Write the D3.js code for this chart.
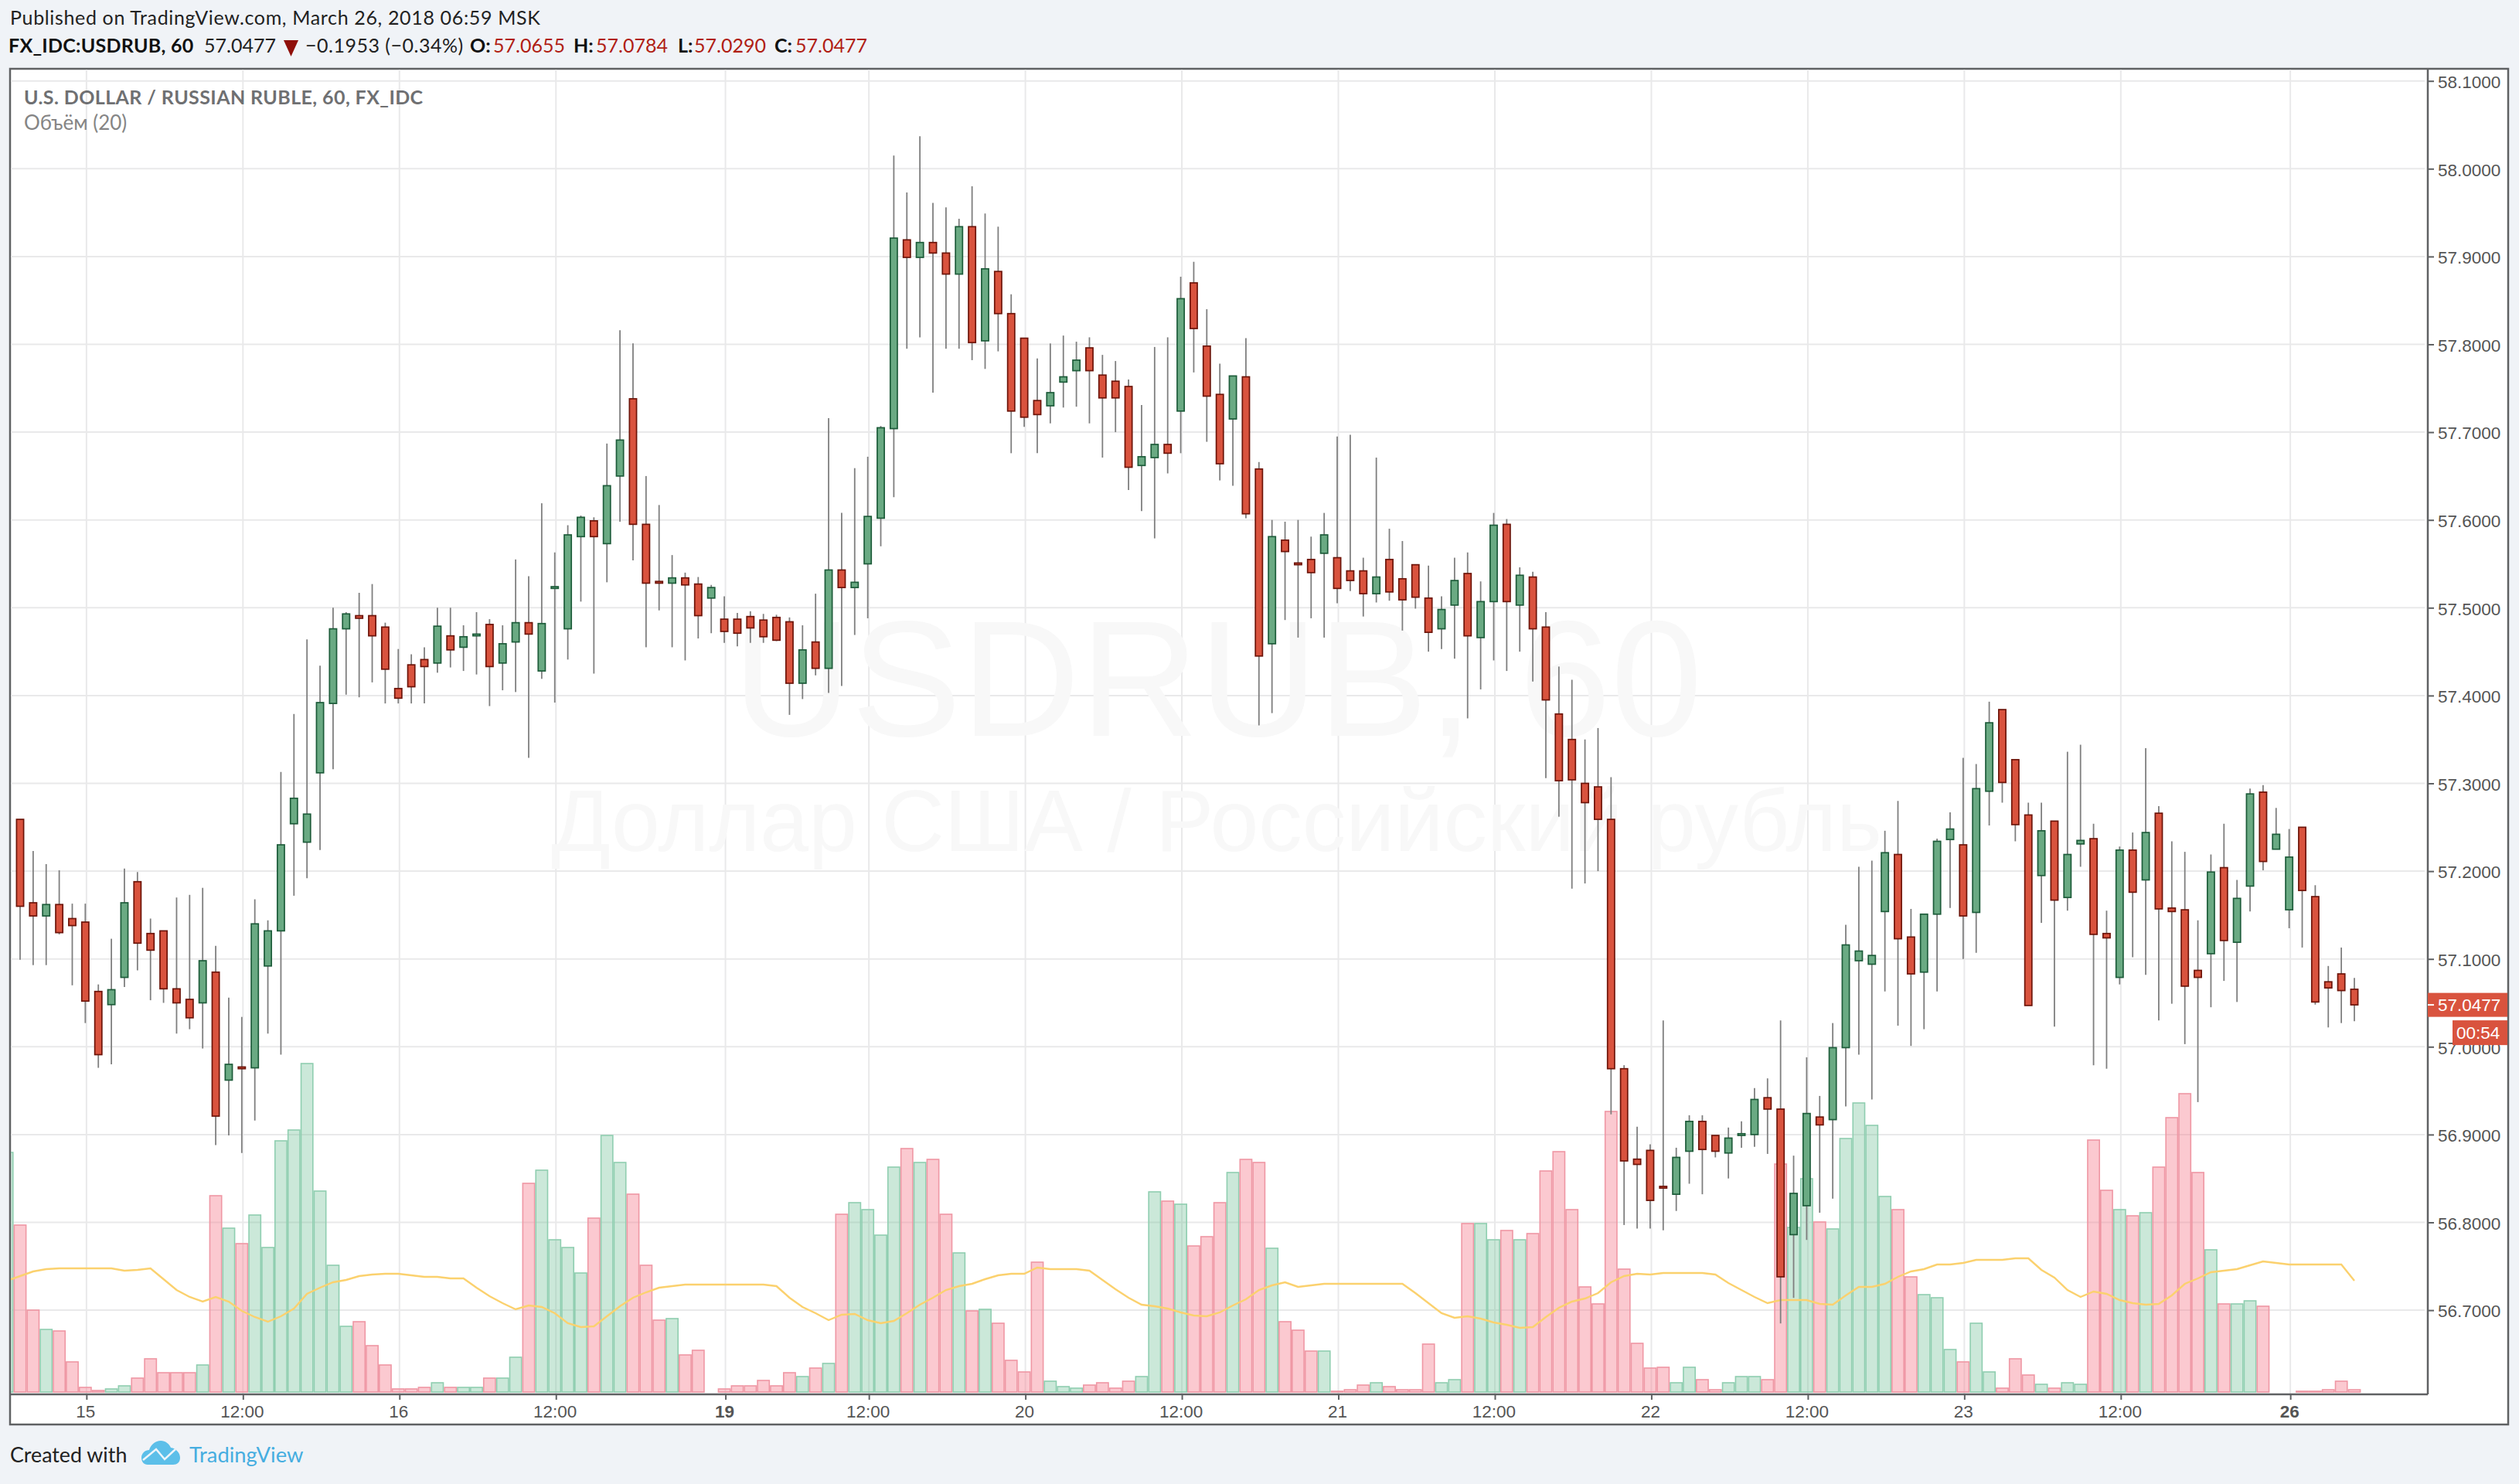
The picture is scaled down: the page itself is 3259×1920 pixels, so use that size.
<!DOCTYPE html>
<html>
<head>
<meta charset="utf-8">
<title>USDRUB, 60</title>
<script src="https://cdnjs.cloudflare.com/ajax/libs/d3/7.8.5/d3.min.js"></script>
<style>
  html, body { margin: 0; padding: 0; background: #f0f3f7; }
  svg { display: block; }
</style>
</head>
<body>
<div id="chart"></div>
<script>
// hourly candles
const opens = [
  57.259,57.164,57.149,57.162,57.146,57.142,57.063,57.048,57.079,57.188,
  57.129,57.132,57.066,57.054,57.050,57.085,56.962,56.977,56.976,57.092,
  57.132,57.254,57.233,57.312,57.391,57.476,57.491,57.491,57.478,57.408,
  57.435,57.441,57.437,57.468,57.455,57.468,57.481,57.437,57.461,57.483,
  57.428,57.522,57.476,57.581,57.599,57.573,57.650,57.738,57.595,57.530,
  57.528,57.534,57.527,57.511,57.487,57.487,57.490,57.486,57.489,57.484,
  57.414,57.461,57.431,57.543,57.523,57.550,57.602,57.704,57.919,57.899,
  57.916,57.904,57.880,57.934,57.804,57.883,57.835,57.807,57.736,57.730,
  57.757,57.770,57.796,57.765,57.758,57.752,57.662,57.671,57.686,57.724,
  57.870,57.798,57.743,57.715,57.763,57.658,57.459,57.577,57.551,57.555,
  57.562,57.557,57.542,57.542,57.516,57.555,57.533,57.549,57.511,57.476,
  57.503,57.539,57.466,57.507,57.595,57.503,57.535,57.478,57.379,57.350,
  57.300,57.296,57.259,56.975,56.872,56.882,56.841,56.832,56.881,56.915,
  56.899,56.879,56.899,56.900,56.942,56.929,56.786,56.819,56.920,56.917,
  56.999,57.098,57.094,57.154,57.219,57.125,57.085,57.151,57.236,57.230,
  57.153,57.291,57.384,57.327,57.264,57.195,57.257,57.170,57.231,57.237,
  57.129,57.079,57.224,57.190,57.266,57.158,57.156,57.087,57.106,57.204,
  57.119,57.183,57.290,57.225,57.156,57.250,57.171,57.074,57.083,57.0655
];
const highs = [
  57.259,57.223,57.208,57.201,57.163,57.163,57.071,57.123,57.203,57.199,
  57.146,57.132,57.170,57.173,57.181,57.115,57.056,57.034,57.168,57.144,
  57.313,57.379,57.464,57.434,57.500,57.495,57.517,57.527,57.483,57.453,
  57.447,57.455,57.500,57.500,57.480,57.495,57.487,57.480,57.555,57.536,
  57.619,57.563,57.594,57.605,57.603,57.687,57.816,57.801,57.650,57.617,
  57.560,57.540,57.535,57.526,57.513,57.494,57.496,57.493,57.492,57.489,
  57.480,57.516,57.716,57.608,57.659,57.672,57.707,58.015,57.973,58.037,
  57.961,57.956,57.943,57.980,57.949,57.934,57.857,57.807,57.784,57.801,
  57.810,57.803,57.808,57.788,57.781,57.760,57.731,57.797,57.808,57.877,
  57.894,57.840,57.778,57.764,57.807,57.666,57.600,57.598,57.600,57.581,
  57.608,57.695,57.697,57.557,57.671,57.590,57.576,57.549,57.548,57.513,
  57.557,57.563,57.530,57.608,57.601,57.546,57.541,57.495,57.433,57.418,
  57.350,57.363,57.307,56.979,56.909,56.889,57.030,56.885,56.922,56.922,
  56.899,56.908,56.915,56.953,56.964,57.030,56.876,56.988,56.944,57.027,
  57.139,57.205,57.212,57.246,57.280,57.157,57.151,57.237,57.267,57.329,
  57.322,57.393,57.384,57.327,57.278,57.278,57.257,57.336,57.344,57.254,
  57.155,57.228,57.244,57.340,57.274,57.234,57.222,57.144,57.219,57.254,
  57.190,57.294,57.298,57.272,57.248,57.250,57.184,57.092,57.113,57.0784
];
const lows = [
  57.099,57.093,57.093,57.128,57.070,57.027,56.976,56.980,57.068,57.087,
  57.053,57.050,57.015,57.020,56.998,56.888,56.899,56.879,56.916,57.015,
  56.991,57.172,57.192,57.224,57.316,57.401,57.398,57.415,57.391,57.391,
  57.391,57.391,57.426,57.432,57.428,57.424,57.388,57.406,57.404,57.329,
  57.419,57.392,57.441,57.507,57.425,57.529,57.598,57.554,57.455,57.497,
  57.455,57.440,57.465,57.471,57.460,57.456,57.460,57.460,57.462,57.378,
  57.396,57.423,57.403,57.411,57.469,57.488,57.570,57.626,57.795,57.808,
  57.745,57.795,57.795,57.782,57.772,57.792,57.676,57.706,57.676,57.710,
  57.728,57.729,57.710,57.671,57.700,57.634,57.610,57.579,57.653,57.676,
  57.768,57.689,57.645,57.639,57.602,57.366,57.380,57.486,57.466,57.488,
  57.466,57.505,57.519,57.490,57.506,57.508,57.474,57.499,57.450,57.453,
  57.442,57.374,57.407,57.440,57.428,57.450,57.416,57.306,57.262,57.180,
  57.186,57.200,56.923,56.797,56.793,56.793,56.791,56.813,56.844,56.832,
  56.874,56.850,56.885,56.886,56.878,56.685,56.714,56.780,56.811,56.827,
  56.932,56.991,56.940,57.063,57.024,57.001,57.020,57.063,57.158,57.100,
  57.107,57.252,57.278,57.234,57.047,57.141,57.023,57.155,57.205,56.979,
  56.975,57.071,57.102,57.082,57.030,57.049,57.003,56.937,57.045,57.075,
  57.051,57.154,57.201,57.225,57.135,57.113,57.048,57.022,57.027,57.029
];
const closes = [
  57.160,57.149,57.162,57.130,57.138,57.052,56.991,57.065,57.164,57.118,
  57.110,57.066,57.050,57.033,57.098,56.921,56.980,56.975,57.140,57.132,
  57.230,57.283,57.265,57.392,57.476,57.493,57.488,57.468,57.430,57.397,
  57.410,57.433,57.479,57.452,57.467,57.470,57.433,57.459,57.483,57.470,
  57.482,57.524,57.583,57.603,57.581,57.639,57.691,57.595,57.528,57.528,
  57.534,57.526,57.491,57.523,57.473,57.471,57.477,57.467,57.463,57.414,
  57.452,57.431,57.543,57.523,57.529,57.604,57.705,57.921,57.899,57.916,
  57.904,57.880,57.934,57.802,57.886,57.835,57.724,57.717,57.720,57.745,
  57.763,57.782,57.770,57.739,57.739,57.660,57.672,57.686,57.676,57.852,
  57.818,57.741,57.664,57.764,57.607,57.445,57.581,57.564,57.549,57.540,
  57.583,57.522,57.531,57.516,57.535,57.518,57.509,57.512,57.472,57.498,
  57.531,57.468,57.507,57.594,57.507,57.537,57.476,57.395,57.303,57.304,
  57.278,57.259,56.975,56.870,56.866,56.825,56.839,56.874,56.915,56.883,
  56.881,56.896,56.901,56.940,56.929,56.738,56.833,56.924,56.911,56.999,
  57.116,57.109,57.104,57.221,57.123,57.083,57.151,57.234,57.248,57.149,
  57.294,57.369,57.301,57.253,57.047,57.246,57.167,57.219,57.235,57.128,
  57.124,57.224,57.176,57.244,57.157,57.154,57.069,57.079,57.199,57.121,
  57.169,57.288,57.211,57.242,57.216,57.178,57.051,57.067,57.064,57.0477
];

// volume has no axis of its own, so these are relative units
// one bar more than the candles: the first one is cut by the left edge
const volumes = [
  310,
  216,106,81,79,39,6,2,4,8,18,
  43,25,25,25,35,254,212,192,229,187,
  325,339,425,260,164,85,91,60,35,4,
  4,6,12,6,6,6,18,18,45,270,
  287,197,187,154,225,332,297,256,164,93,
  95,48,54,0,4,8,8,15,8,25,
  20,31,37,230,245,236,203,291,315,297,
  301,230,180,105,107,89,41,26,168,14,
  7,5,9,12,5,14,20,259,247,243,
  189,201,245,284,301,297,186,91,80,53,
  53,1,3,9,12,7,3,3,62,12,
  16,218,218,197,209,197,205,286,311,236,
  136,114,363,159,63,31,32,12,32,16,
  3,12,20,20,16,295,213,276,220,211,
  328,374,345,253,236,149,126,122,55,39,
  89,26,5,43,22,10,5,12,10,326,
  261,236,228,232,291,355,386,284,184,114,
  114,118,111,0,0,1,1,3,14,3
];
const volumeMA = [
  144,
  150,156,159,160,160,160,160,160,157,158,
  160,146,132,123,117,123,117,105,97,91,
  98,108,127,135,142,145,150,152,153,153,
  151,149,149,147,147,135,124,115,107,112,
  110,102,89,84,85,98,111,122,129,135,
  137,139,139,139,139,139,139,139,137,122,
  110,102,93,100,101,93,89,92,102,113,
  122,132,137,140,146,151,153,153,161,159,
  159,159,157,145,133,122,113,111,108,103,
  99,98,103,112,120,132,138,142,136,138,
  140,140,140,140,140,140,140,128,115,102,
  96,98,95,90,87,83,84,97,109,117,
  121,128,142,150,153,152,154,154,154,154,
  152,141,132,123,115,119,119,119,114,113,
  125,136,136,140,149,156,159,165,165,167,
  171,171,171,173,173,158,148,132,123,130,
  127,119,115,113,114,125,140,147,155,157,
  159,164,169,167,165,165,165,165,165,144
];

const priceTicks = [56.7,56.8,56.9,57.0,57.1,57.2,57.3,57.4,57.5,57.6,57.7,57.8,57.9,58.0,58.1];
const timeTickBars = [5,17,29,41,54,65,77,89,101,113,125,137,149,161,174];
const timeTickLabels = ["15","12:00","16","12:00","19","12:00","20","12:00","21","12:00","22","12:00","23","12:00","26"];
const boldTimeLabels = ["19","26"];

const width = 3259, height = 1920;
const frame = {left: 13, top: 89, right: 3245, bottom: 1843};
const plotRight = 3141, plotBottom = 1804, volBase = 1801;

const svg = d3.select("#chart").append("svg")
  .attr("width", width)
  .attr("height", height)
  .attr("viewBox", "0 0 " + width + " " + height);

const x = d3.scaleLinear().domain([0, 179]).range([26, 3046]);
const y = d3.scaleLinear().domain([57, 58]).range([1354.3, 218.3]);
const yVol = d3.scaleLinear().domain([0, 450]).range([volBase, volBase - 450]);

const headerFont = "Lato, 'Noto Sans', sans-serif";
const axisFont = "'Liberation Sans', Arial, sans-serif";
const red = "#d9533e", green = "#6aaa83";

// white panel and its border
svg.append("rect")
  .attr("x", frame.left).attr("y", frame.top)
  .attr("width", frame.right - frame.left)
  .attr("height", frame.bottom - frame.top)
  .attr("fill", "#fff")
  .attr("stroke", "#5f6163")
  .attr("stroke-width", 2.5);

svg.append("clipPath").attr("id", "plot")
  .append("rect")
  .attr("x", frame.left + 1).attr("y", frame.top + 1)
  .attr("width", plotRight - frame.left - 1)
  .attr("height", plotBottom - frame.top - 1);

const plot = svg.append("g").attr("clip-path", "url(#plot)");

// grid
plot.selectAll("line.hgrid").data(priceTicks).enter().append("line")
  .attr("class", "hgrid")
  .attr("x1", frame.left).attr("x2", plotRight - 4)
  .attr("y1", d => y(d)).attr("y2", d => y(d))
  .attr("stroke", "#e9e9ea").attr("stroke-width", 2);

plot.selectAll("line.vgrid").data(timeTickBars).enter().append("line")
  .attr("class", "vgrid")
  .attr("x1", d => x(d) + 1.5).attr("x2", d => x(d) + 1.5)
  .attr("y1", frame.top).attr("y2", plotBottom)
  .attr("stroke", "#e9e9ea").attr("stroke-width", 2);

// watermark
plot.append("text")
  .attr("x", 1575).attr("y", 952)
  .attr("text-anchor", "middle")
  .style("font-family", axisFont).style("font-size", "213px")
  .style("fill", "#f8f8f8")
  .text("USDRUB, 60");
plot.append("text")
  .attr("x", 1574).attr("y", 1101)
  .attr("text-anchor", "middle")
  .style("font-family", axisFont).style("font-size", "113px")
  .style("fill", "#f8f8f8")
  .text("Доллар США / Российский рубль");

// volume columns, volumes[0] sits one bar before the first candle
const isUp = i => i < 0 || closes[i] >= opens[i];
const barW = x(1) - x(0);

plot.selectAll("rect.vol").data(volumes).enter().append("rect")
  .attr("class", "vol")
  .attr("x", (d, i) => x(i - 1) - barW / 2 + 0.8)
  .attr("width", barW - 1.6)
  .attr("y", d => yVol(d))
  .attr("height", d => volBase - yVol(d))
  .attr("fill", (d, i) => isUp(i - 1) ? "#6ec096" : "#f68293")
  .attr("fill-opacity", (d, i) => isUp(i - 1) ? 0.36 : 0.43)
  .attr("stroke", (d, i) => isUp(i - 1) ? "#8fceb0" : "#ef97a4")
  .attr("stroke-width", 1.6);

// moving average of volume
const maLine = d3.line()
  .x((d, i) => x(i - 1))
  .y(d => yVol(d));

plot.append("path")
  .datum(volumeMA)
  .attr("d", maLine)
  .attr("fill", "none")
  .attr("stroke", "#fbd16e")
  .attr("stroke-width", 2.4);

// candles
const candles = plot.selectAll("g.candle").data(opens).enter().append("g")
  .attr("class", "candle");

candles.append("line")
  .attr("x1", (d, i) => x(i)).attr("x2", (d, i) => x(i))
  .attr("y1", (d, i) => y(highs[i]))
  .attr("y2", (d, i) => y(lows[i]))
  .attr("stroke", "#7f7f7f")
  .attr("stroke-width", 1.8);

candles.append("rect")
  .attr("x", (d, i) => x(i) - 4.6)
  .attr("width", 9.2)
  .attr("y", (d, i) => y(Math.max(opens[i], closes[i])))
  .attr("height", (d, i) => Math.max(1.5, Math.abs(y(opens[i]) - y(closes[i]))))
  .attr("fill", (d, i) => isUp(i) ? green : red)
  .attr("stroke", (d, i) => isUp(i) ? "#1d5c3a" : "#6d1409")
  .attr("stroke-width", 1.7);

// axes
const yAxis = d3.axisRight(y)
  .tickValues(priceTicks)
  .tickFormat(d3.format(".4f"))
  .tickSize(8)
  .tickPadding(5);

const yAxisG = svg.append("g")
  .attr("transform", "translate(" + plotRight + ",0)")
  .call(yAxis);
yAxisG.select(".domain").attr("d", "M0," + frame.top + "V" + plotBottom)
  .attr("stroke", "#5f6163").attr("stroke-width", 2.5);
yAxisG.selectAll(".tick line").attr("stroke", "#5f6163").attr("stroke-width", 2);
yAxisG.selectAll(".tick text")
  .attr("transform", "translate(0,1.5)")
  .style("font-family", axisFont).style("font-size", "22.5px").style("fill", "#555");

const xAxis = d3.axisBottom(x)
  .tickValues(timeTickBars)
  .tickFormat((d, i) => timeTickLabels[i])
  .tickSize(7)
  .tickPadding(7);

const xAxisG = svg.append("g")
  .attr("transform", "translate(0," + plotBottom + ")")
  .call(xAxis);
xAxisG.select(".domain").attr("d", "M" + frame.left + ",0H" + plotRight)
  .attr("stroke", "#5f6163").attr("stroke-width", 2.5);
xAxisG.selectAll(".tick line").attr("stroke", "#5f6163").attr("stroke-width", 2)
  .attr("transform", "translate(1.5,0)");
xAxisG.selectAll(".tick text")
  .style("font-family", axisFont).style("font-size", "22.5px").style("fill", "#555")
  .style("font-weight", (d, i) => boldTimeLabels.includes(timeTickLabels[i]) ? "bold" : "normal");

// last price tag and countdown
const lastPrice = closes[closes.length - 1];
svg.append("rect")
  .attr("x", plotRight).attr("y", y(lastPrice) - 15.5)
  .attr("width", frame.right - plotRight - 1).attr("height", 31)
  .attr("fill", red);
svg.append("line")
  .attr("x1", plotRight).attr("x2", plotRight + 8)
  .attr("y1", y(lastPrice)).attr("y2", y(lastPrice))
  .attr("stroke", "#fff").attr("stroke-width", 2);
svg.append("text")
  .attr("x", plotRight + 13).attr("y", y(lastPrice) + 8)
  .style("font-family", axisFont).style("font-size", "22.5px").style("fill", "#fff")
  .text(d3.format(".4f")(lastPrice));
svg.append("rect")
  .attr("x", 3173).attr("y", y(lastPrice) + 20)
  .attr("width", frame.right - 3174).attr("height", 32)
  .attr("fill", red);
svg.append("text")
  .attr("x", 3178).attr("y", y(lastPrice) + 44)
  .style("font-family", axisFont).style("font-size", "22.5px").style("fill", "#fff")
  .text("00:54");

// legend inside the panel
svg.append("text").attr("x", 31).attr("y", 135)
  .style("font-family", headerFont).style("font-size", "25px")
  .style("letter-spacing", "0.4px")
  .style("font-weight", "bold").style("fill", "#6f7072")
  .text("U.S. DOLLAR / RUSSIAN RUBLE, 60, FX_IDC");
svg.append("text").attr("x", 31).attr("y", 168)
  .style("font-family", headerFont).style("font-size", "26px").style("fill", "#858585")
  .text("Объём (20)");

// header lines
svg.append("text").attr("x", 13).attr("y", 32)
  .style("font-family", headerFont).style("font-size", "25px")
  .style("letter-spacing", "0.65px").style("fill", "#222")
  .text("Published on TradingView.com, March 26, 2018 06:59 MSK");

const drop = "#b01e14";
const headerBits = [
  {x: 11, t: "FX_IDC:USDRUB, 60", bold: true, c: "#111", ls: 0.25},
  {x: 264, t: "57.0477", c: "#222"},
  {x: 395, t: "\u22120.1953 (\u22120.34%)", c: "#222", ls: 0.5},
  {x: 608, t: "O:", bold: true, c: "#111"},
  {x: 638, t: "57.0655", c: drop},
  {x: 742, t: "H:", bold: true, c: "#111"},
  {x: 771, t: "57.0784", c: drop},
  {x: 877, t: "L:", bold: true, c: "#111"},
  {x: 898, t: "57.0290", c: drop},
  {x: 1002, t: "C:", bold: true, c: "#111"},
  {x: 1029, t: "57.0477", c: drop}
];
svg.selectAll("text.head").data(headerBits).enter().append("text")
  .attr("class", "head")
  .attr("x", d => d.x).attr("y", 68)
  .style("font-family", headerFont).style("font-size", "25px")
  .style("letter-spacing", d => (d.ls || 0) + "px")
  .style("font-weight", d => d.bold ? "bold" : "normal")
  .style("fill", d => d.c)
  .text(d => d.t);
svg.append("path")
  .attr("d", "M367,52H386L376.5,73Z")
  .attr("fill", "#8f0f0a");

// footer
svg.append("text").attr("x", 13).attr("y", 1892)
  .style("font-family", headerFont).style("font-size", "26.8px").style("fill", "#222")
  .text("Created with");
svg.append("path")
  .attr("d", "M183,1886C183,1880 188,1876 193,1876C195,1869 201,1864 208,1864C214,1864 219,1868 221,1873C228,1874 233,1880 233,1886C233,1892 229,1895 224,1895H191C186,1895 183,1891 183,1886Z")
  .attr("fill", "#5cbfe9");
svg.append("path")
  .attr("d", "M185,1889L202,1875L213,1888L227,1875")
  .attr("fill", "none").attr("stroke", "#eef5fa").attr("stroke-width", 2.5);
svg.append("text").attr("x", 245).attr("y", 1892)
  .style("font-family", headerFont).style("font-size", "27.3px").style("fill", "#45ade0")
  .text("TradingView");
</script>
</body>
</html>
